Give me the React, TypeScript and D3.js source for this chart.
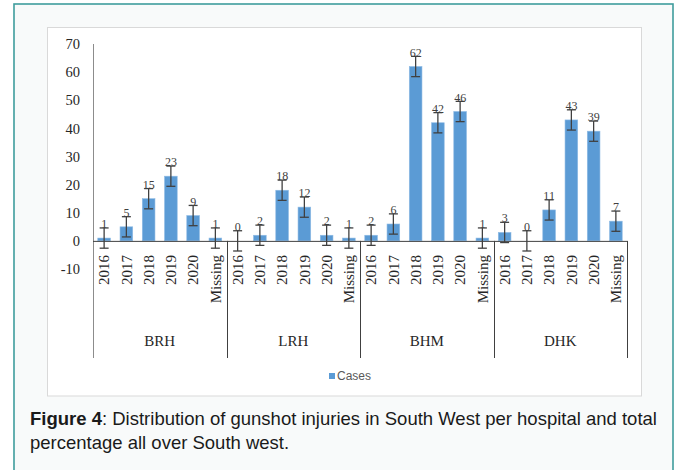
import React, { useEffect, useRef } from "react";
import * as d3 from "d3";

const hospitals = ["BRH", "LRH", "BHM", "DHK"];
const years = ["2016", "2017", "2018", "2019", "2020", "Missing"];
const brhCases = [1, 5, 15, 23, 9, 1];
const lrhCases = [0, 2, 18, 12, 2, 1];
const bhmCases = [2, 6, 62, 42, 46, 1];
const dhkCases = [3, 0, 11, 43, 39, 7];
const errorMargin = 3.6;
const yTicks = [-10, 0, 10, 20, 30, 40, 50, 60, 70];

const App = () => {
  const svgRef = useRef<SVGSVGElement>(null);

  useEffect(() => {
    const svg = d3.select(svgRef.current);
    svg.selectAll("*").remove();

    const rows = [brhCases, lrhCases, bhmCases, dhkCases];
    const data = hospitals.flatMap((h, i) =>
      years.map((yr, j) => ({ hospital: h, year: yr, value: rows[i][j] }))
    );

    // frame
    svg
      .append("rect")
      .attr("x", 14)
      .attr("y", 4)
      .attr("width", 659)
      .attr("height", 480)
      .attr("fill", "#f8fafa")
      .attr("stroke", "#3f9d9d")
      .attr("stroke-width", 1.6);

    svg
      .append("rect")
      .attr("x", 47.5)
      .attr("y", 27.5)
      .attr("width", 594)
      .attr("height", 368.5)
      .attr("fill", "#fff")
      .attr("stroke", "#d9d9d9");

    const x = d3.scaleBand().domain(hospitals).range([93, 627]).padding(0);
    const xi = d3
      .scaleBand()
      .domain(years)
      .range([0, x.bandwidth()])
      .paddingInner(0.43)
      .paddingOuter(0.215);
    const y = d3.scaleLinear().domain([-10, 70]).range([269, 44]);

    // y axis labels
    const yAxis = svg
      .append("g")
      .attr("transform", "translate(93,0)")
      .call(
        d3
          .axisLeft(y)
          .tickValues(yTicks)
          .tickSize(0)
          .tickPadding(13)
          .tickFormat((d) => String(d))
      );
    yAxis.select(".domain").remove();
    yAxis
      .selectAll("text")
      .attr("font-family", "Liberation Serif, serif")
      .attr("font-size", 14.5)
      .attr("fill", "#262626");

    // y axis line
    svg
      .append("line")
      .attr("x1", 93.5)
      .attr("x2", 93.5)
      .attr("y1", y(70))
      .attr("y2", 358)
      .attr("stroke", "#8c8c8c");

    // bars
    const g = svg.append("g");
    g.selectAll("rect.bar")
      .data(data)
      .join("rect")
      .attr("class", "bar")
      .attr("x", (d) => x(d.hospital)! + xi(d.year)!)
      .attr("y", (d) => y(d.value))
      .attr("width", xi.bandwidth())
      .attr("height", (d) => y(0) - y(d.value))
      .attr("fill", "#5b9bd5")
      .attr("stroke", "#8fbbe4")
      .attr("stroke-width", 0.6);

    // x axis line
    svg
      .append("line")
      .attr("x1", 93)
      .attr("x2", 627)
      .attr("y1", y(0) + 0.5)
      .attr("y2", y(0) + 0.5)
      .attr("stroke", "#404040");

    // group separators
    svg
      .append("g")
      .selectAll("line")
      .data(hospitals.slice(1).concat(["end"]))
      .join("line")
      .attr("x1", (d) => Math.round(d === "end" ? 627 : x(d)!) + 0.5)
      .attr("x2", (d) => Math.round(d === "end" ? 627 : x(d)!) + 0.5)
      .attr("y1", y(0))
      .attr("y2", 358)
      .attr("stroke", "#404040");

    // error bars
    const cx = (d) => x(d.hospital)! + xi(d.year)! + xi.bandwidth() / 2;
    const eb = g.selectAll("g.err").data(data).join("g").attr("class", "err");
    eb.append("line")
      .attr("x1", cx)
      .attr("x2", cx)
      .attr("y1", (d) => y(d.value + errorMargin))
      .attr("y2", (d) => y(d.value - errorMargin));
    eb.append("line")
      .attr("x1", (d) => cx(d) - 4.5)
      .attr("x2", (d) => cx(d) + 4.5)
      .attr("y1", (d) => y(d.value + errorMargin))
      .attr("y2", (d) => y(d.value + errorMargin));
    eb.append("line")
      .attr("x1", (d) => cx(d) - 4.5)
      .attr("x2", (d) => cx(d) + 4.5)
      .attr("y1", (d) => y(d.value - errorMargin))
      .attr("y2", (d) => y(d.value - errorMargin));
    eb.selectAll("line").attr("stroke", "#404040").attr("stroke-width", 1.3);

    // value labels
    g.selectAll("text.val")
      .data(data)
      .join("text")
      .attr("class", "val")
      .attr("x", cx)
      .attr("y", (d) => y(d.value) - 10)
      .attr("text-anchor", "middle")
      .attr("font-family", "Liberation Serif, serif")
      .attr("font-size", 12)
      .attr("fill", "#404040")
      .text((d) => d.value);

    // category labels
    g.selectAll("text.cat")
      .data(data)
      .join("text")
      .attr("class", "cat")
      .attr("transform", (d) => `translate(${cx(d)},255) rotate(-90)`)
      .attr("dy", "0.35em")
      .attr("text-anchor", "end")
      .attr("font-family", "Liberation Serif, serif")
      .attr("font-size", 15)
      .attr("fill", "#262626")
      .text((d) => d.year);

    // group labels
    svg
      .append("g")
      .selectAll("text")
      .data(hospitals)
      .join("text")
      .attr("x", (d) => x(d)! + x.bandwidth() / 2)
      .attr("y", 346)
      .attr("text-anchor", "middle")
      .attr("font-family", "Liberation Serif, serif")
      .attr("font-size", 15)
      .attr("fill", "#262626")
      .text((d) => d);

    // legend
    svg
      .append("rect")
      .attr("x", 329)
      .attr("y", 373)
      .attr("width", 6)
      .attr("height", 6)
      .attr("fill", "#5b9bd5");
    svg
      .append("text")
      .attr("x", 337)
      .attr("y", 380)
      .attr("font-family", "Liberation Sans Narrow, Liberation Sans, sans-serif")
      .attr("font-size", 12)
      .attr("fill", "#595959")
      .text("Cases");

    // caption
    const cap = svg
      .append("text")
      .attr("font-family", "Liberation Sans, Arial, sans-serif")
      .attr("font-size", 18.5)
      .attr("fill", "#1a1a1a");
    const l1 = cap.append("tspan").attr("x", 30).attr("y", 425);
    l1.append("tspan").attr("font-weight", "bold").text("Figure 4");
    l1.append("tspan").text(
      ": Distribution of gunshot injuries in South West per hospital and total"
    );
    cap
      .append("tspan")
      .attr("x", 30)
      .attr("y", 449)
      .text("percentage all over South west.");
  }, []);

  return (
    <svg
      ref={svgRef}
      width={680}
      height={470}
      style={{ position: "absolute", left: 0, top: 0, background: "#fff" }}
    />
  );
};

export default App;
